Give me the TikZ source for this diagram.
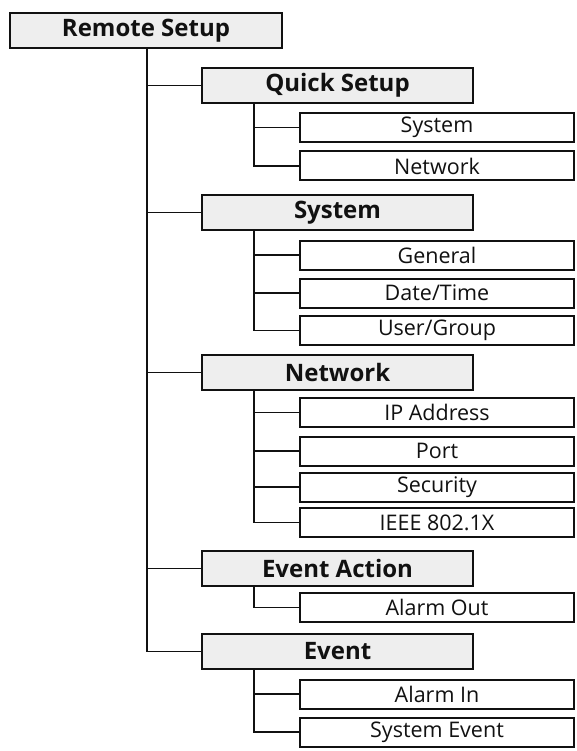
\documentclass[tikz,border=0pt]{standalone}
\usepackage{fontspec}
\setmainfont{Open Sans}
\usepackage{xcolor}
\usepackage{tikz}
\usetikzlibrary{positioning}
\definecolor{cInk}{HTML}{111111}
\definecolor{cShade}{HTML}{EEEEEE}
\tikzset{
  rootbox/.style={draw=cInk,fill=cShade,line width=2.2pt,minimum width=272pt,minimum height=35pt,inner sep=0pt,font=\fontsize{24}{26}\selectfont\bfseries,text=cInk},
  menubox/.style={draw=cInk,fill=cShade,line width=2.2pt,minimum width=271pt,minimum height=35pt,inner sep=0pt,font=\fontsize{24}{26}\selectfont\bfseries,text=cInk},
  itembox/.style={draw=cInk,fill=white,line width=2pt,minimum width=274pt,minimum height=29pt,inner sep=0pt,font=\fontsize{21.5}{23}\selectfont,text=cInk},
  link/.style={draw=cInk,line width=1.9pt},
}

\begin{document}
\begin{tikzpicture}[x=1pt,y=-1pt]
  \useasboundingbox (0,0) rectangle (576,751);
  % root
  \node[rootbox] (root) at (146,30.5) {Remote Setup};
  % menus
  \node[menubox] (quick) at (337.5,85.5) {Quick Setup};
  \node[menubox] (sys) at (337.5,212.5) {System};
  \node[menubox] (net) at (337.5,372.5) {Network};
  \node[menubox] (act) at (337.5,568.5) {Event Action};
  \node[menubox] (evt) at (337.5,651.5) {Event};
  % items
  \node[itembox] (quickSys) at (437,127.5) {System};
  \node[itembox] (quickNet) at (437,166) {Network};
  \node[itembox] (sysGen) at (437,255) {General};
  \node[itembox] (sysDate) at (437,293) {Date/Time};
  \node[itembox] (sysUser) at (437,330.5) {User/Group};
  \node[itembox] (netIp) at (437,412.5) {IP Address};
  \node[itembox] (netPort) at (437,451) {Port};
  \node[itembox] (netSec) at (437,487) {Security};
  \node[itembox] (netIeee) at (437,522.5) {IEEE 802.1X};
  \node[itembox] (actOut) at (437,607.5) {Alarm Out};
  \node[itembox] (evtIn) at (437,694) {Alarm In};
  \node[itembox] (evtSys) at (437,732) {System Event};
  % trunk
  \foreach \m in {quick,sys,net,act,evt}{
    \draw[link] ([xshift=1pt]root.south) |- (\m.west);
  }
  % branches
  \foreach \p/\c in {quick/quickSys,quick/quickNet,sys/sysGen,sys/sysDate,sys/sysUser,net/netIp,net/netPort,net/netSec,net/netIeee,act/actOut,evt/evtIn,evt/evtSys}{
    \draw[link] ([xshift=53pt]\p.south west) |- (\c.west);
  }
\end{tikzpicture}
\end{document}
